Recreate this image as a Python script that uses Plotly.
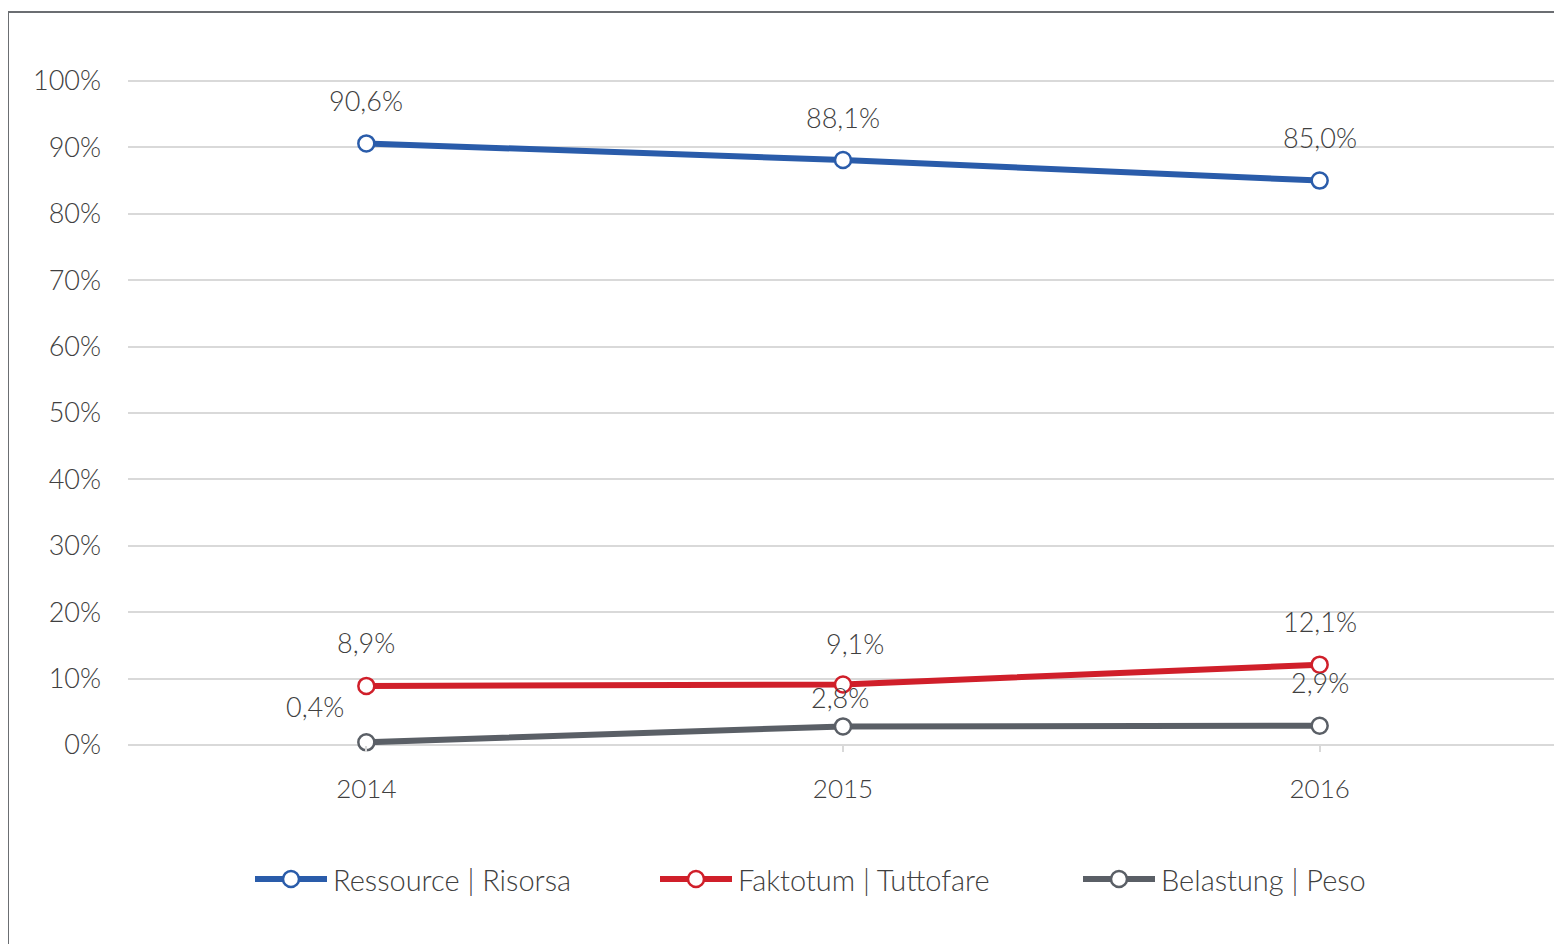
import plotly.graph_objects as go

# chart data
years = ['2014', '2015', '2016']
ressource = [90.6, 88.1, 85.0]
faktotum = [8.9, 9.1, 12.1]
belastung = [0.4, 2.8, 2.9]
y_ticks = [0, 10, 20, 30, 40, 50, 60, 70, 80, 90, 100]
y_labels = [f'{v}%' for v in y_ticks]

series = [
    ('Ressource | Risorsa', ressource, '#2a5caa'),
    ('Faktotum | Tuttofare', faktotum, '#d01f2a'),
    ('Belastung | Peso', belastung, '#5a5f66'),
]

# label offsets (xshift, yshift) per series / point
label_shift = {
    'Ressource | Risorsa': [(0, 43), (0, 43), (0, 43)],
    'Faktotum | Tuttofare': [(0, 43), (12, 41), (0, 43)],
    'Belastung | Peso': [(-51, 36), (-3, 29), (0, 43)],
}

# legend layout: left pixel of each entry's line, legend row pixel (page coords)
legend_left = [255, 660, 1083]
legend_row = 879

# plot area in page pixels (page has an 8px body margin)
PL, PR, PT, PB = 128, 1558, 79, 745

font_family = 'Lato, Noto Sans, sans-serif'
text_color = '#404040'


def fmt(v):
    return f'{v:.1f}'.replace('.', ',') + '%'


def px(x):
    return (x - PL) / (PR - PL)


def py(y):
    return (PB - y) / (PB - PT)


fig = go.Figure()

for name, vals, color in series:
    fig.add_trace(go.Scatter(
        x=years, y=vals, name=name, mode='lines+markers',
        line=dict(color=color, width=6),
        marker=dict(size=16, color='white', line=dict(color=color, width=2.5)),
        cliponaxis=False, showlegend=False,
    ))
    for i, v in enumerate(vals):
        dx, dy = label_shift[name][i]
        fig.add_annotation(x=i, y=v, xref='x', yref='y', text=fmt(v), showarrow=False,
                           xshift=dx, yshift=dy,
                           font=dict(size=27, color=text_color, family=font_family, weight=300))

# hand-drawn legend
for (name, vals, color), left in zip(series, legend_left):
    fig.add_shape(type='line', xref='paper', yref='paper',
                  x0=px(left), x1=px(left + 72), y0=py(legend_row), y1=py(legend_row),
                  line=dict(color=color, width=6))
    fig.add_shape(type='circle', xref='paper', yref='paper',
                  x0=px(left + 28), x1=px(left + 44),
                  y0=py(legend_row + 8), y1=py(legend_row - 8),
                  fillcolor='white', line=dict(color=color, width=2.5))
    fig.add_annotation(xref='paper', yref='paper', x=px(left + 76), y=py(legend_row),
                       xanchor='left', yanchor='middle', showarrow=False, text=name,
                       font=dict(size=29, color=text_color, family=font_family, weight=300))

# outer frame
fig.add_shape(type='rect', xref='paper', yref='paper',
              x0=px(8), x1=1.2, y0=-0.5, y1=py(12),
              line=dict(color='#6b6e72', width=2), layer='below')

fig.update_layout(
    width=1554, height=936,
    margin=dict(l=PL - 8, r=1554 + 8 - PR, t=PT - 8, b=936 + 8 - PB),
    paper_bgcolor='white', plot_bgcolor='white',
    font=dict(family=font_family, size=27, color=text_color, weight=300),
    showlegend=False,
    xaxis=dict(
        type='category', range=[-0.5, 2.5],
        showgrid=False, showline=False, zeroline=False,
        ticks='outside', ticklen=6, tickcolor='#d9d9d9', tickwidth=2,
        ticklabelstandoff=15,
        tickfont=dict(size=26, color=text_color, weight=300),
    ),
    yaxis=dict(
        range=[0, 100.3], tickvals=y_ticks, ticktext=y_labels,
        showgrid=True, gridcolor='#d9d9d9', gridwidth=2,
        zeroline=True, zerolinecolor='#d9d9d9', zerolinewidth=2,
        showline=False, ticks='', ticklabelstandoff=26,
        tickfont=dict(size=27, color=text_color, weight=300),
    ),
)

fig.write_html('out.html')
